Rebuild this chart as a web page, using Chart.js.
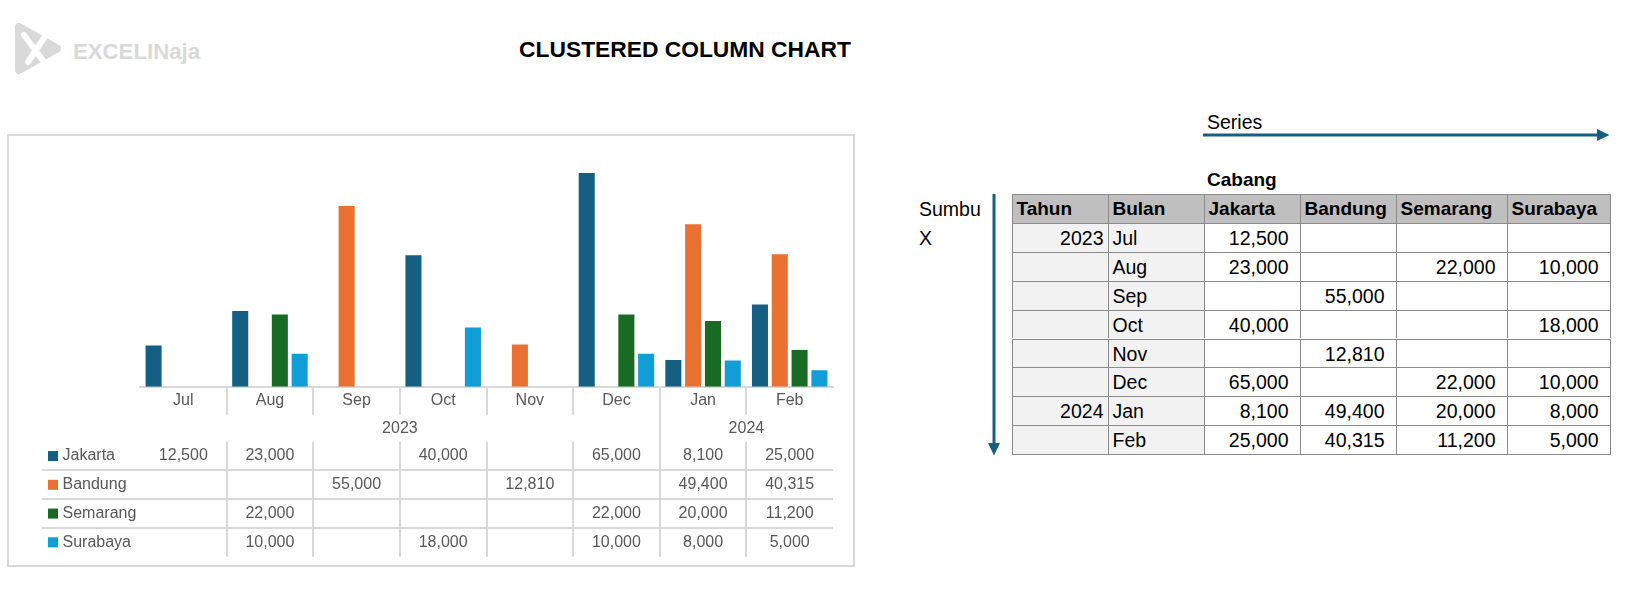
<!DOCTYPE html>
<html>
<head>
<meta charset="utf-8">
<title>Clustered Column Chart</title>
<script src="https://cdn.jsdelivr.net/npm/chart.js@4.4.0/dist/chart.umd.min.js"></script>
<style>
  body { margin: 0; background: #fff; font-family: 'Liberation Sans', Arial, sans-serif; }
  #page { position: relative; width: 1625px; height: 598px; overflow: hidden; }
  .txt { position: absolute; white-space: nowrap; color: #000; }
  #judul { left: 485px; width: 400px; top: 35px; text-align: center; font-size: 22.8px; font-weight: bold; line-height: 28px; }
  #brand { left: 73px; top: 38px; font-size: 22.2px; font-weight: bold; color: #d9d9d9; line-height: 28px; }
  #chartBox { position: absolute; left: 7px; top: 134px; width: 848px; height: 433px; border: 2px solid #d9d9d9; box-sizing: border-box; }
  #chartBox canvas { position: absolute; left: 0; top: 0; }
  .lbl { font-size: 19.5px; line-height: 24px; }
  .cell { position: absolute; box-sizing: border-box; border-left: 1px solid #8c8c8c; border-top: 1px solid #8c8c8c;
          font-size: 19.5px; white-space: nowrap; overflow: hidden; color: #000; }
  #gambar { position: absolute; left: 0; top: 0; }
</style>
</head>
<body>
<div id="page">
  <svg id="gambar" width="1625" height="598">
    <!-- logo -->
    <path d="M19 27 L57 48.5 L19 70 Z" fill="#d9d9d9" stroke="#d9d9d9" stroke-width="8" stroke-linejoin="round"/>
    <path d="M24 35 L44 62 M44 38 L28 62" stroke="#fff" stroke-width="6" stroke-linecap="round"/>
    <!-- panah series -->
    <line x1="1203" y1="135" x2="1599" y2="135" stroke="#156082" stroke-width="3"/>
    <polygon points="1597,129 1609.5,135 1597,141" fill="#156082"/>
    <!-- panah sumbu x -->
    <line x1="994" y1="194" x2="994" y2="445" stroke="#156082" stroke-width="3"/>
    <polygon points="988,443 994,455.5 1000,443" fill="#156082"/>
  </svg>
  <div class="txt" id="brand">EXCELINaja</div>
  <div class="txt" id="judul">CLUSTERED COLUMN CHART</div>

  <div id="chartBox"><canvas id="myChart" width="844" height="429"></canvas></div>

  <div class="txt lbl" style="left:1207px; top:110px;">Series</div>
  <div class="txt lbl" style="left:1207px; top:168px; font-weight:bold; font-size:19px;">Cabang</div>
  <div class="txt lbl" style="left:919px; top:197px;">Sumbu</div>
  <div class="txt lbl" style="left:919px; top:226px;">X</div>
  <div id="tabel"></div>
</div>

<script>
// DATA
const bulan = ['Jul', 'Aug', 'Sep', 'Oct', 'Nov', 'Dec', 'Jan', 'Feb'];
const tahun = ['2023', '2023', '2023', '2023', '2023', '2023', '2024', '2024'];
const cabang = ['Jakarta', 'Bandung', 'Semarang', 'Surabaya'];
const jakarta = [12500, 23000, null, 40000, null, 65000, 8100, 25000];
const bandung = [null, null, 55000, null, 12810, null, 49400, 40315];
const semarang = [null, 22000, null, null, null, 22000, 20000, 11200];
const surabaya = [null, 10000, null, 18000, null, 10000, 8000, 5000];
const warna = ['#156082', '#e97132', '#196b24', '#0f9ed5'];
const nilai = [jakarta, bandung, semarang, surabaya];

const fmt = v => (v === null ? '' : v.toLocaleString('en-US'));
const teks = '#595959';

// TABEL DATA DI BAWAH GRAFIK
const tabelData = {
    id: 'tabelData',
    afterDraw(chart) {
        const ctx = chart.ctx;
        const x = chart.scales.x;
        const n = bulan.length;
        const w = (x.right - x.left) / n;
        const axisY = x.top;
        const tblTop = axisY + 55;
        const rowH = 28.75;
        const tblBottom = tblTop + rowH * cabang.length;
        ctx.save();
        ctx.strokeStyle = '#d9d9d9';
        ctx.lineWidth = 2;
        // garis pemisah bulan dan tahun
        for (let i = 1; i < n; i++) {
            const bx = Math.round(x.left + i * w);
            const gantiTahun = tahun[i] !== tahun[i - 1];
            ctx.beginPath();
            ctx.moveTo(bx, axisY);
            ctx.lineTo(bx, gantiTahun ? tblBottom : axisY + 28);
            if (!gantiTahun) {
                ctx.moveTo(bx, tblTop);
                ctx.lineTo(bx, tblBottom);
            }
            ctx.stroke();
        }
        // garis baris
        for (let r = 1; r < cabang.length; r++) {
            const ry = Math.round(tblTop + r * rowH);
            ctx.beginPath();
            ctx.moveTo(33, ry);
            ctx.lineTo(x.right, ry);
            ctx.stroke();
        }
        ctx.font = '16px "Liberation Sans", Arial, sans-serif';
        ctx.fillStyle = teks;
        ctx.textBaseline = 'middle';
        ctx.textAlign = 'center';
        // label tahun
        let mulai = 0;
        for (let i = 1; i <= n; i++) {
            if (i === n || tahun[i] !== tahun[mulai]) {
                ctx.fillText(tahun[mulai], x.left + (mulai + i) / 2 * w, axisY + 41.5);
                mulai = i;
            }
        }
        // baris seri
        cabang.forEach((nama, r) => {
            const cy = tblTop + (r + 0.5) * rowH;
            ctx.fillStyle = warna[r];
            ctx.fillRect(39, cy - 5, 10, 10);
            ctx.fillStyle = teks;
            ctx.textAlign = 'left';
            ctx.fillText(nama, 53.5, cy);
            ctx.textAlign = 'center';
            nilai[r].forEach((v, i) => {
                ctx.fillText(fmt(v), x.left + (i + 0.5) * w, cy);
            });
        });
        ctx.restore();
    }
};

const config = {
    type: 'bar',
    data: {
        labels: bulan,
        datasets: cabang.map((nama, k) => ({
            label: nama,
            data: nilai[k],
            backgroundColor: warna[k],
            borderWidth: 0,
            categoryPercentage: 0.915,
            barPercentage: 0.81
        }))
    },
    options: {
        responsive: false,
        animation: false,
        layout: { padding: { left: 131, right: 20, top: 20.6, bottom: 0 } },
        plugins: { legend: { display: false }, tooltip: { enabled: false } },
        scales: {
            x: {
                grid: { display: false, drawTicks: false },
                border: { display: true, color: '#d9d9d9', width: 2 },
                ticks: { color: teks, font: { size: 16, family: '"Liberation Sans", Arial, sans-serif' }, padding: 4.4, maxRotation: 0, autoSkip: false },
                afterFit(scale) { scale.height = 178.3; }
            },
            y: { display: false, min: 0, max: 70000 }
        }
    },
    plugins: [tabelData]
};
const myChart = new Chart(document.getElementById('myChart'), config);

// TABEL SUMBER DI KANAN
const kolomX = [1011.5, 1107.5, 1203.5, 1299.5, 1395.5, 1506.5, 1609.5];
const barisTop = 194;
const barisH = 28.9;
const tabel = document.getElementById('tabel');
function sel(r, c, isi, gaya) {
    const d = document.createElement('div');
    d.className = 'cell';
    d.style.left = kolomX[c] + 'px';
    d.style.top = (barisTop + r * barisH) + 'px';
    d.style.width = (kolomX[c + 1] - kolomX[c] + (c === kolomX.length - 2 ? 1 : 0)) + 'px';
    d.style.height = (barisH + (r === bulan.length ? 1 : 0)) + 'px';
    d.style.lineHeight = barisH + 'px';
    if (c === kolomX.length - 2) d.style.borderRight = '1px solid #8c8c8c';
    if (r === bulan.length) d.style.borderBottom = '1px solid #8c8c8c';
    Object.assign(d.style, gaya);
    d.textContent = isi;
    tabel.appendChild(d);
}
const header = ['Tahun', 'Bulan'].concat(cabang);
header.forEach((h, c) => sel(0, c, h, { background: '#bfbfbf', fontWeight: 'bold', fontSize: '19px', paddingLeft: '4px' }));
bulan.forEach((b, i) => {
    const r = i + 1;
    sel(r, 0, (i === 0 || tahun[i] !== tahun[i - 1]) ? tahun[i] : '', { background: '#f2f2f2', textAlign: 'right', paddingRight: '4px' });
    sel(r, 1, b, { background: '#f2f2f2', paddingLeft: '4px' });
    nilai.forEach((seri, k) => sel(r, k + 2, fmt(seri[i]), { textAlign: 'right', paddingRight: '11px' }));
});
</script>
</body>
</html>
